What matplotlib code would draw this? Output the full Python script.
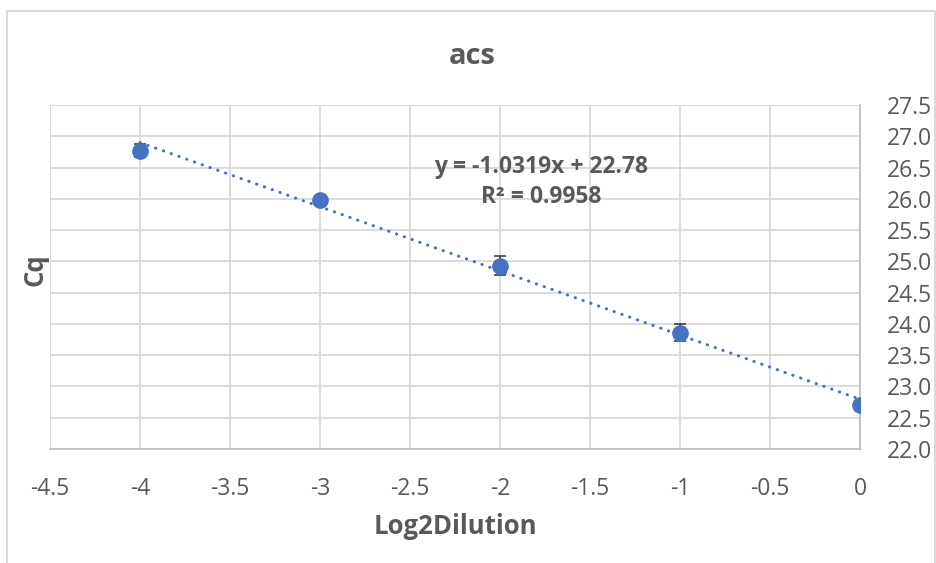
import numpy as np
import matplotlib.pyplot as plt
from matplotlib.lines import Line2D

plt.rcParams['font.family'] = ['Open Sans', 'DejaVu Sans']

# data
log2_dilution = [-4, -3, -2, -1, 0]
cq_mean = [26.77, 25.98, 24.93, 23.86, 22.70]
cq_err = [0.10, 0.05, 0.15, 0.14, 0.05]
eq_text = "y = -1.0319x + 22.78\nR² = 0.9958"

blue = '#4472C4'
grey_txt = '#595959'
grid_col = '#d9d9d9'

fig = plt.figure(figsize=(9.36, 5.63), dpi=100)
ax = fig.add_axes([50/936, 1 - 449/563, 810/936, 344/563])

# linear trendline over the data range
slope, icpt = np.polyfit(log2_dilution, cq_mean, 1)
xs = np.array([min(log2_dilution), max(log2_dilution)])
ax.plot(xs, slope * xs + icpt, color=blue, lw=2.2,
		linestyle=(0, (0.1, 2.6)), dash_capstyle='round', zorder=3)

ax.errorbar(log2_dilution, cq_mean, yerr=cq_err, fmt='o', color=blue,
			ms=11, ecolor='#404040', elinewidth=1.2, capsize=4.5,
			capthick=1.2, zorder=4)

ax.set_xlim(-4.5, 0)
ax.set_ylim(22.0, 27.5)
ax.set_xticks(np.arange(-4.5, 0.01, 0.5))
ax.set_xticklabels(['-4.5', '-4', '-3.5', '-3', '-2.5', '-2', '-1.5', '-1', '-0.5', '0'])
ax.set_yticks(np.arange(22.0, 27.51, 0.5))
ax.set_yticklabels([f'{v:.1f}' for v in np.arange(22.0, 27.51, 0.5)])
ax.yaxis.tick_right()

ax.grid(True, color=grid_col, lw=1.3)
ax.set_axisbelow(True)
for side in ['top', 'left']:
	ax.spines[side].set_visible(False)
for side in ['bottom', 'right']:
	ax.spines[side].set_color('#bfbfbf')
	ax.spines[side].set_linewidth(1.3)
ax.tick_params(axis='both', length=0, labelsize=16.5, labelcolor=grey_txt)
ax.tick_params(axis='x', pad=20)
ax.tick_params(axis='y', pad=19)

ax.text(-1.77, 25.84, eq_text, ha='center', va='bottom', fontsize=16.5,
		fontweight='bold', color=grey_txt, linespacing=1.35)

fig.text(472/936, 1 - 56/563, 'acs', ha='center', va='center',
		 fontsize=21, fontweight='bold', color=grey_txt)
fig.text(455/936, 1 - 527/563, 'Log2Dilution', ha='center', va='center',
		 fontsize=18.5, fontweight='bold', color=grey_txt)
fig.text(35/936, 1 - 270/563, 'Cq', ha='center', va='center', rotation=90,
		 fontsize=18.5, fontweight='bold', color=grey_txt)

# chart area border (runs off the bottom of the image)
fx = [7.5/936, 7.5/936, 934.5/936, 934.5/936]
fy = [0, 1 - 10.5/563, 1 - 10.5/563, 0]
fig.add_artist(Line2D(fx, fy, color=grid_col, lw=1.5))

fig.savefig('out.png', dpi=100)
